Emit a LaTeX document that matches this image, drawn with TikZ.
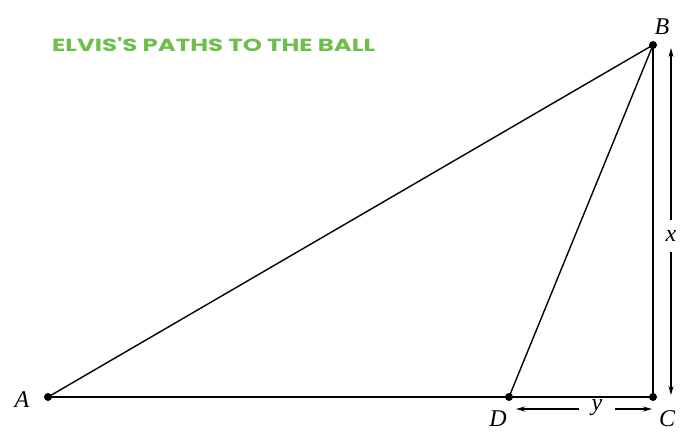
\documentclass[tikz,border=0pt]{standalone}
\usepackage{graphicx}
\usepackage{fontspec}
\setmainfont{Liberation Serif}
\newfontfamily\titlefont{Poppins}
\usetikzlibrary{arrows.meta}
\definecolor{titlegreen}{HTML}{6CC04A}
\begin{document}
\begin{tikzpicture}[x=1pt,y=-1pt,
  seg/.style={line width=1.4pt},
  dim/.style={line width=1.2pt,-{Stealth[length=9pt,width=5pt]}},
  pt/.style={circle,fill=black,inner sep=0pt,minimum size=8pt},
  lab/.style={font=\fontsize{24}{24}\selectfont\itshape,inner sep=0pt}]
\useasboundingbox (0,0) rectangle (680,432);
\node[pt] (A) at (48,397) {};
\node[pt] (B) at (653,45) {};
\node[pt] (C) at (653,397) {};
\node[pt] (D) at (509,397) {};
\draw[seg] (A.center) -- (B.center);
\draw[seg] (D.center) -- (B.center);
\draw[seg] (A.center) -- (C.center);
\draw[seg] (B.center) -- (C.center);
\node[lab] (lA) at (22,400) {A};
\node[lab] (lB) at (662,27) {B};
\node[lab] (lC) at (667,419) {C};
\node[lab] (lD) at (498,419) {D};
\node[lab] (lx) at (671,236) {x};
\node[lab] (ly) at (597,408) {y};
\coordinate (xt) at (671,48);
\coordinate (xb) at (671,395);
\coordinate (yl) at (516,409);
\coordinate (yr) at (652,409);
\draw[dim] (lx.north) ++(0,-10) -- (xt);
\draw[dim] (lx.south) ++(0,10) -- (xb);
\draw[dim] (ly.west |- yl) ++(-12,0) -- (yl);
\draw[dim] (ly.east |- yr) ++(12,0) -- (yr);
\node[text=titlegreen,font=\titlefont\bfseries\fontsize{20}{20}\selectfont,anchor=west,inner sep=0pt] (title) at (52,45) {\resizebox{323pt}{14pt}{ELVIS'S PATHS TO THE BALL}};
\end{tikzpicture}
\end{document}
